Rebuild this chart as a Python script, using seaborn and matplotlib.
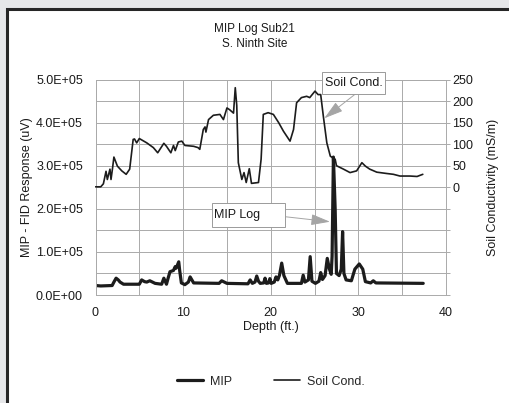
import numpy as np
import pandas as pd
import matplotlib
matplotlib.use("Agg")
import matplotlib.pyplot as plt
from matplotlib.patches import Rectangle
from matplotlib.ticker import MultipleLocator, FuncFormatter, FixedLocator
import seaborn as sns

# ---------------- data ----------------
mip_depth = [0, 0.6, 1.9, 2.1, 2.35, 2.6, 2.8, 3.2, 5.0, 5.27, 5.6, 5.85, 6.2, 6.5, 6.8,
             7.55, 7.8, 8.1, 8.3, 8.5, 8.9, 9.1, 9.2, 9.5, 9.6, 9.8, 10.2, 10.6, 10.8,
             11.0, 11.2, 14.1, 14.4, 14.7, 15.0, 17.4, 17.65, 17.9, 18.2, 18.4, 18.6,
             18.8, 19.2, 19.35, 19.5, 19.75, 19.9, 20.05, 20.4, 20.6, 20.8, 21.0, 21.25,
             21.5, 21.9, 23.5, 23.7, 23.9, 24.3, 24.5, 24.7, 25.1, 25.5, 25.7, 25.9,
             26.2, 26.45, 26.7, 26.9, 27.0, 27.15, 27.35, 27.5, 27.8, 28.05, 28.2,
             28.35, 28.6, 29.2, 29.6, 30.1, 30.5, 30.8, 31.4, 31.7, 32.0, 37.4]
mip_value = [22000, 21000, 22000, 30000, 39000, 35000, 30000, 25000, 25000, 35000, 31000,
             30000, 33000, 30000, 27000, 25000, 39000, 25000, 40000, 54000, 57000, 66000,
             62000, 77000, 58000, 28000, 24000, 30000, 42000, 35000, 28000, 27000, 33000,
             30000, 27000, 26000, 35000, 27000, 30000, 44000, 32000, 27000, 28000, 39000,
             27000, 28000, 38000, 27000, 30000, 42000, 35000, 46000, 74000, 45000, 27000,
             27000, 46000, 30000, 35000, 89000, 32000, 27000, 32000, 52000, 36000, 45000,
             85000, 60000, 48000, 90000, 320000, 200000, 50000, 45000, 60000, 147000,
             50000, 35000, 33000, 60000, 72000, 60000, 31000, 28000, 33000, 28000, 27000]

soil_depth = [0, 0.6, 0.9, 1.2, 1.35, 1.65, 1.77, 1.95, 2.1, 2.5, 3.0, 3.5, 3.9, 4.3,
              4.45, 4.7, 5.0, 5.85, 6.6, 7.1, 7.8, 8.1, 8.6, 8.9, 9.1, 9.45, 9.85,
              10.2, 11.2, 11.7, 11.9, 12.3, 12.5, 12.6, 12.9, 13.45, 14.2, 14.6, 15.0,
              15.3, 15.75, 15.95, 16.12, 16.3, 16.7, 16.95, 17.2, 17.55, 17.8, 18.6,
              18.9, 19.15, 19.7, 20.3, 20.9, 21.45, 22.2, 22.6, 22.95, 23.5, 24.1,
              24.45, 25.05, 25.4, 25.7, 26.0, 26.4, 26.8, 27.35, 27.5, 28.3, 29.05,
              29.8, 30.4, 30.8, 31.3, 32.1, 33.2, 34.0, 34.75, 35.9, 36.7, 37.35]
soil_value = [1, 1, 8, 37, 18, 42, 18, 45, 70, 49, 38, 30, 42, 111, 112, 103, 113, 103,
              92, 80, 102, 95, 80, 97, 85, 105, 107, 97, 95, 92, 88, 134, 140, 128, 157,
              167, 169, 157, 184, 180, 172, 231, 190, 57, 18, 34, 11, 43, 9, 11, 65, 169,
              173, 169, 150, 130, 107, 134, 196, 208, 211, 208, 223, 215, 215, 165, 103,
              72, 65, 50, 42, 34, 38, 57, 49, 42, 35, 32, 30, 26, 26, 25, 30]

title_lines = ["MIP Log Sub21", "S. Ninth Site"]
x_label = "Depth (ft.)"
y_label_left = "MIP - FID Response (uV)"
y_label_right = "Soil Conductivity (mS/m)"
series_names = ["MIP", "Soil Cond."]

mip_df = pd.DataFrame({"depth": mip_depth, "value": mip_value})
soil_df = pd.DataFrame({"depth": soil_depth, "value": soil_value})

# ---------------- style ----------------
sns.set_style("white")
plt.rcParams["font.family"] = ["Liberation Sans", "DejaVu Sans"]
plt.rcParams["font.size"] = 9

LINE = "#1c1c1c"
GRID = "#aaaaaa"
TXT = "#1a1a1a"

fig = plt.figure(figsize=(5.09, 4.03), dpi=100, facecolor="#e6e7e9")
# white panel with dark frame
fig.patches.append(Rectangle((6.5 / 509, -0.2), 1.2, 1.2 - 9 / 403 + 0.0,
                             transform=fig.transFigure, facecolor="white",
                             edgecolor="#262626", lw=2.2, zorder=-10))

ax = fig.add_axes([95.5 / 509, 1 - 295 / 403, 350.5 / 509, 215.5 / 403])
ax.set_facecolor("none")
ax2 = ax.twinx()

sns.lineplot(data=mip_df, x="depth", y="value", ax=ax, color=LINE, lw=2.3,
             label=series_names[0], sort=False)
sns.lineplot(data=soil_df, x="depth", y="value", ax=ax2, color=LINE, lw=1.2,
             label=series_names[1], sort=False)

h1, l1 = ax.get_legend_handles_labels()
h2, l2 = ax2.get_legend_handles_labels()
for a in (ax, ax2):
    if a.get_legend() is not None:
        a.get_legend().remove()

# left axis
ax.set_xlim(0, 40)
ax.set_ylim(0, 5e5)
ax.xaxis.set_major_locator(MultipleLocator(10))
ax.xaxis.set_minor_locator(MultipleLocator(5))
ax.yaxis.set_major_locator(MultipleLocator(1e5))
ax.yaxis.set_minor_locator(MultipleLocator(5e4))
ax.yaxis.set_major_formatter(FuncFormatter(lambda v, p: f"{v:.1E}"))
ax.grid(True, which="both", color=GRID, lw=0.7)
ax.tick_params(axis="both", which="both", length=0, colors=TXT, labelsize=9)
ax.tick_params(axis="y", pad=9)
ax.tick_params(axis="x", pad=9)
ax.set_xlabel(x_label, fontsize=9, color=TXT, labelpad=1)
ax.set_ylabel(y_label_left, fontsize=9, color=TXT, labelpad=2)
for s in ax.spines.values():
    s.set_color(GRID)
    s.set_linewidth(0.7)

# right axis
ax2.set_ylim(-250, 250)
ax2.yaxis.set_major_locator(FixedLocator(np.arange(-250, 251, 50)))
ax2.yaxis.set_major_formatter(FuncFormatter(lambda v, p: f"{v:.0f}" if v >= 0 else ""))
ax2.tick_params(axis="y", length=3, width=0.7, color=GRID, pad=1.5, colors=TXT,
                labelsize=9)
ax2.tick_params(axis="y", color=GRID)
ax2.grid(False)
ax2.set_ylabel(y_label_right, fontsize=9, color=TXT, labelpad=10)
for s in ax2.spines.values():
    s.set_visible(False)

# title
fig.text(0.5, 1 - 29 / 403, title_lines[0], ha="center", va="center", fontsize=8.5, color=TXT)
fig.text(0.5, 1 - 44 / 403, title_lines[1], ha="center", va="center", fontsize=8.5, color=TXT)

# annotation boxes
def box(a, x0, y0, x1, y1, text, tx, ha):
    a.add_patch(Rectangle((x0, y0), x1 - x0, y1 - y0, transform=a.transAxes,
                          facecolor="white", edgecolor="#9a9a9a", lw=0.7,
                          clip_on=False, zorder=20))
    a.text(tx, (y0 + y1) / 2, text, transform=a.transAxes, ha=ha, va="center",
           fontsize=9, color=TXT, zorder=21, clip_on=False)

arrow_kw = dict(arrowstyle="-|>,head_length=1.3,head_width=0.38", color="#a5a5a5",
                lw=0.7, shrinkA=0, shrinkB=0)

box(ax2, 0.6454, 0.931, 0.8265, 1.036, "Soil Cond.", (0.6454 + 0.8265) / 2, "center")
ax2.annotate("", xy=(0.6528, 0.820), xytext=(0.7404, 0.9313), xycoords="axes fraction",
             textcoords="axes fraction", arrowprops=arrow_kw, zorder=19)

box(ax2, 0.3315, 0.314, 0.5407, 0.428, "MIP Log", 0.338, "left")
ax2.annotate("", xy=(0.669, 0.340), xytext=(0.5407, 0.3633), xycoords="axes fraction",
             textcoords="axes fraction", arrowprops=arrow_kw, zorder=19)

fig.legend(h1 + h2, l1 + l2, loc="center", bbox_to_anchor=(0.532, 1 - 381.7 / 403),
           ncol=2, frameon=False, handlelength=2.1, handletextpad=0.5,
           columnspacing=3.4, fontsize=9)

fig.savefig("out.png", dpi=100, facecolor=fig.get_facecolor())
